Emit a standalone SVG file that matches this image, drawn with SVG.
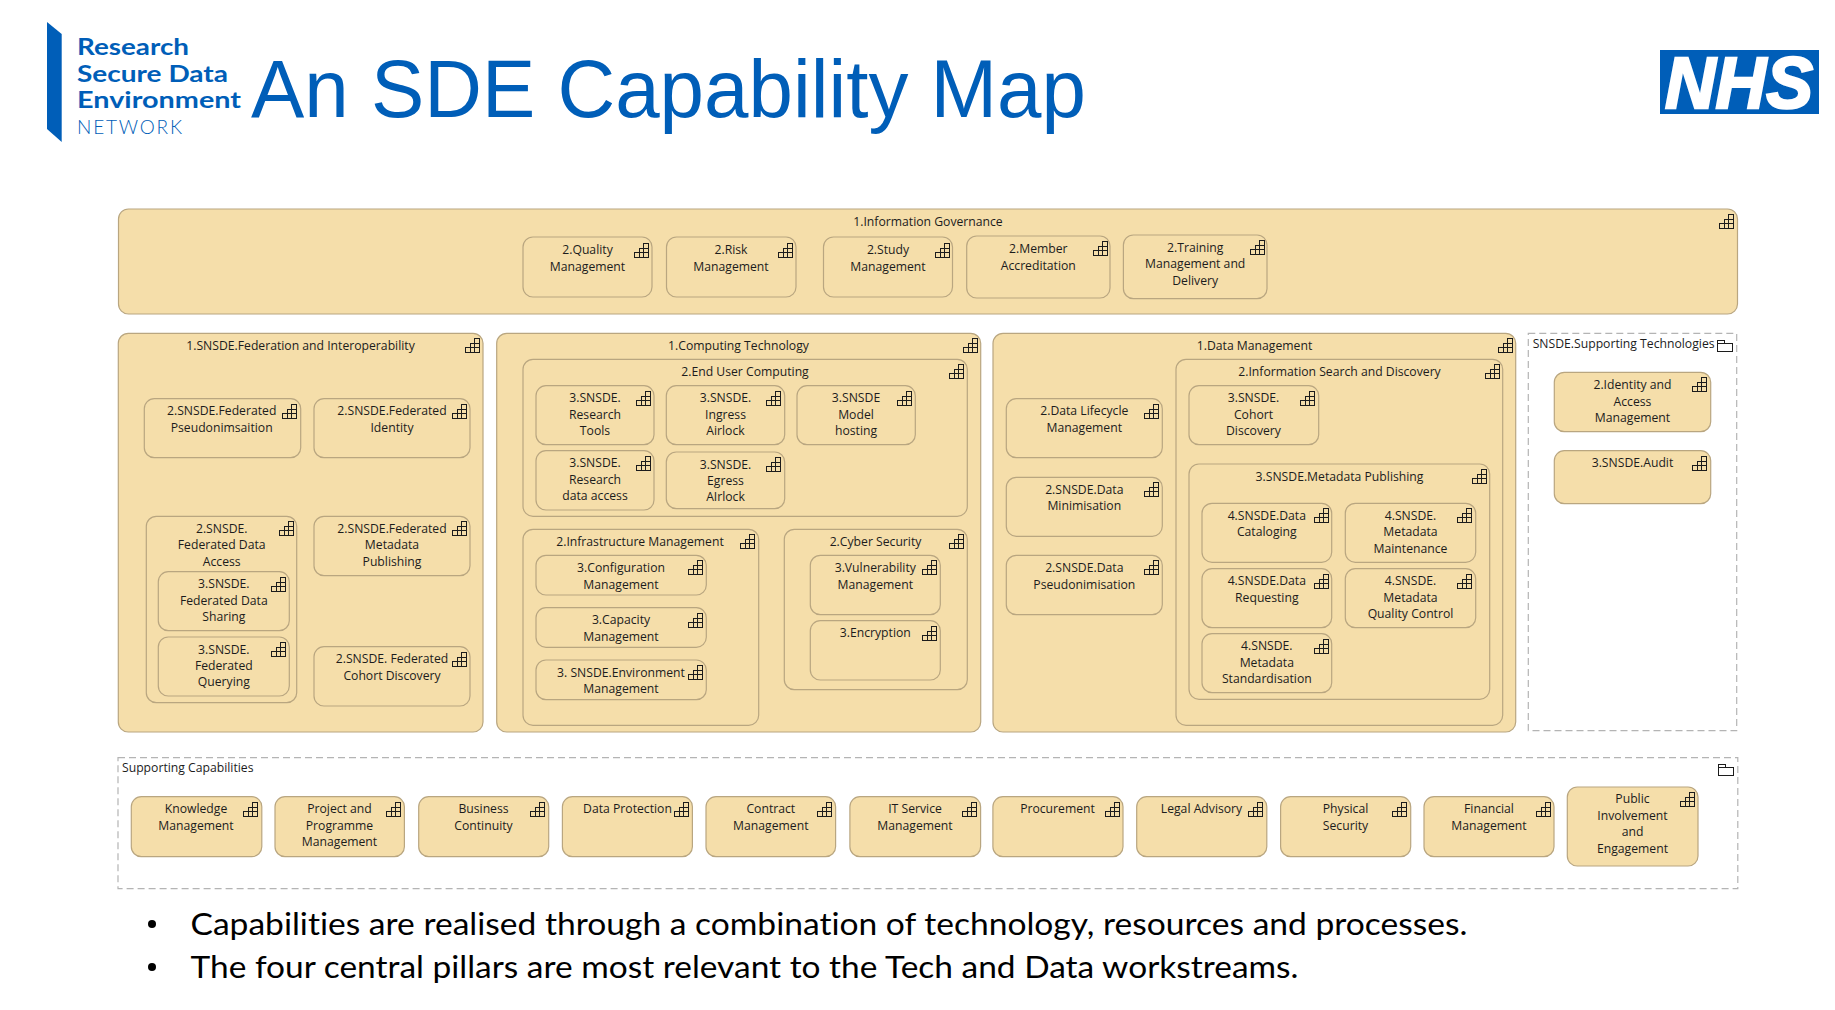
<svg xmlns="http://www.w3.org/2000/svg" width="1835" height="1010" viewBox="0 0 1835 1010">
<style>
text{font-family:"Open Sans","Noto Sans","Liberation Sans",sans-serif}
.b{fill:#F5DEAA;stroke:#B9A680;stroke-width:1.2}
.d{fill:#fff;stroke:#B4B4B4;stroke-width:1.2;stroke-dasharray:7 4}
.t{font-size:12.2px;fill:#1c1c1c;text-anchor:middle;transform:translateY(-.6px)}
.l{font-size:12.2px;fill:#1c1c1c;transform:translateY(-.6px)}
.i{fill:none;stroke:#1c1c1c;stroke-width:1;shape-rendering:crispEdges}
.logo{fill:#005EB8;font-family:Lato,"Open Sans",sans-serif;font-weight:700;font-size:22px}
.bul{font-family:Lato,"Open Sans",sans-serif;font-size:31px;fill:#000;font-variant-ligatures:none}
</style>
<defs>
<g id="cap"><path class="i" d="M0 14V9H5V5H9V0H14V14ZM0 9H14M5 5H14M5 9V14M9 5V14"/></g>
<g id="fold"><path class="i" d="M0 11V0H7V3H15V11ZM0 3H7"/></g>
</defs>
<g id="logo">
<polygon points="47,22 61.700,34 61.700,142 47,129" fill="#005EB8"/>
<text class="logo" x="77" y="55" textLength="112" lengthAdjust="spacingAndGlyphs">Research</text>
<text class="logo" x="77" y="81.700" textLength="151" lengthAdjust="spacingAndGlyphs">Secure Data</text>
<text class="logo" x="77" y="108" textLength="164" lengthAdjust="spacingAndGlyphs">Environment</text>
<text x="77" y="133.700" font-size="19" fill="#005EB8" font-weight="300" style="font-family:Lato,sans-serif" textLength="105">NETWORK</text>
</g>
<g id="title"><text x="251" y="117" font-size="81" fill="#005EB8" style="font-family:'Liberation Sans',sans-serif" textLength="835" lengthAdjust="spacingAndGlyphs">An SDE Capability Map</text></g>
<g id="nhs"><rect x="1660" y="50" width="159" height="64" fill="#005EB8"/>
<text x="1665" y="108" font-size="73" font-weight="700" font-style="italic" fill="#fff" stroke="#fff" stroke-width="2.500" style="font-family:'Liberation Sans',sans-serif" textLength="148" lengthAdjust="spacingAndGlyphs">NHS</text></g>

<g id="information-governance"><rect class="b" x="118.500" y="209" width="1619" height="105" rx="10"/><text class="t" x="928" y="226.700">1.Information Governance</text><use href="#cap" x="1719.500" y="214"/></g>
<g id="quality-management"><rect class="b" x="523" y="237" width="129" height="60" rx="10"/><text class="t" x="587.500" y="255">2.Quality<tspan x="587.500" dy="16.400">Management</tspan></text><use href="#cap" x="634" y="243"/></g>
<g id="risk-management"><rect class="b" x="666.500" y="237" width="129.500" height="60" rx="10"/><text class="t" x="731" y="255">2.Risk<tspan x="731" dy="16.400">Management</tspan></text><use href="#cap" x="778" y="243"/></g>
<g id="study-management"><rect class="b" x="823.500" y="237" width="129" height="60" rx="10"/><text class="t" x="888" y="255">2.Study<tspan x="888" dy="16.400">Management</tspan></text><use href="#cap" x="935" y="243"/></g>
<g id="member-accreditation"><rect class="b" x="966.700" y="236" width="143.300" height="62" rx="10"/><text class="t" x="1038.300" y="254">2.Member<tspan x="1038.300" dy="16.400">Accreditation</tspan></text><use href="#cap" x="1093" y="241.500"/></g>
<g id="training"><rect class="b" x="1123.400" y="235" width="143.600" height="63.700" rx="10"/><text class="t" x="1195.200" y="252.500">2.Training<tspan x="1195.200" dy="16.400">Management and</tspan><tspan x="1195.200" dy="16.400">Delivery</tspan></text><use href="#cap" x="1250" y="240"/></g>

<g id="federation"><rect class="b" x="118.300" y="333.300" width="364.700" height="398.700" rx="10"/><text class="t" x="300.500" y="351">1.SNSDE.Federation and Interoperability</text><use href="#cap" x="465.300" y="338.500"/></g>
<g id="fed-pseudo"><rect class="b" x="144.300" y="398.700" width="156.400" height="59" rx="10"/><text class="t" x="221.700" y="416">2.SNSDE.Federated<tspan x="221.700" dy="16.400">Pseudonimsaition</tspan></text><use href="#cap" x="282.300" y="404"/></g>
<g id="fed-identity"><rect class="b" x="314" y="398.700" width="156" height="59" rx="10"/><text class="t" x="392" y="416">2.SNSDE.Federated<tspan x="392" dy="16.400">Identity</tspan></text><use href="#cap" x="452" y="404"/></g>
<g id="fed-data-access"><rect class="b" x="146.300" y="516.300" width="150.400" height="186.400" rx="10"/><text class="t" x="221.700" y="533.500">2.SNSDE.<tspan x="221.700" dy="16.400">Federated Data</tspan><tspan x="221.700" dy="16.400">Access</tspan></text><use href="#cap" x="279" y="521.500"/></g>
<g id="fed-metadata"><rect class="b" x="314" y="516.300" width="156" height="59.400" rx="10"/><text class="t" x="392" y="533.500">2.SNSDE.Federated<tspan x="392" dy="16.400">Metadata</tspan><tspan x="392" dy="16.400">Publishing</tspan></text><use href="#cap" x="452" y="521.500"/></g>
<g id="fed-sharing"><rect class="b" x="158.300" y="571.700" width="131" height="59" rx="10"/><text class="t" x="223.800" y="589">3.SNSDE.<tspan x="223.800" dy="16.400">Federated Data</tspan><tspan x="223.800" dy="16.400">Sharing</tspan></text><use href="#cap" x="271.300" y="577"/></g>
<g id="fed-querying"><rect class="b" x="158.300" y="637" width="131" height="59" rx="10"/><text class="t" x="223.800" y="654.300">3.SNSDE.<tspan x="223.800" dy="16.400">Federated</tspan><tspan x="223.800" dy="16.400">Querying</tspan></text><use href="#cap" x="271.300" y="642.300"/></g>
<g id="fed-cohort"><rect class="b" x="314" y="646.700" width="156" height="59.300" rx="10"/><text class="t" x="392" y="664">2.SNSDE. Federated<tspan x="392" dy="16.400">Cohort Discovery</tspan></text><use href="#cap" x="452" y="652"/></g>

<g id="computing"><rect class="b" x="496.700" y="333.300" width="484" height="398.700" rx="10"/><text class="t" x="738.500" y="351">1.Computing Technology</text><use href="#cap" x="963" y="338.500"/></g>
<g id="end-user"><rect class="b" x="523" y="359.300" width="444.300" height="157" rx="10"/><text class="t" x="745" y="377">2.End User Computing</text><use href="#cap" x="949.500" y="364.500"/></g>
<g id="research-tools"><rect class="b" x="536" y="385.700" width="118" height="59" rx="10"/><text class="t" x="595" y="403">3.SNSDE.<tspan x="595" dy="16.400">Research</tspan><tspan x="595" dy="16.400">Tools</tspan></text><use href="#cap" x="636" y="391"/></g>
<g id="ingress"><rect class="b" x="666.300" y="385.700" width="118.400" height="59" rx="10"/><text class="t" x="725.500" y="403">3.SNSDE.<tspan x="725.500" dy="16.400">Ingress</tspan><tspan x="725.500" dy="16.400">Airlock</tspan></text><use href="#cap" x="766.500" y="391"/></g>
<g id="model"><rect class="b" x="797" y="385.700" width="118.300" height="59" rx="10"/><text class="t" x="856" y="403">3.SNSDE<tspan x="856" dy="16.400">Model</tspan><tspan x="856" dy="16.400">hosting</tspan></text><use href="#cap" x="897" y="391"/></g>
<g id="research-data"><rect class="b" x="536" y="450.700" width="118" height="59.300" rx="10"/><text class="t" x="595" y="468">3.SNSDE.<tspan x="595" dy="16.400">Research</tspan><tspan x="595" dy="16.400">data access</tspan></text><use href="#cap" x="636" y="456"/></g>
<g id="egress"><rect class="b" x="666.300" y="452" width="118.400" height="56.700" rx="10"/><text class="t" x="725.500" y="469.300">3.SNSDE.<tspan x="725.500" dy="16.400">Egress</tspan><tspan x="725.500" dy="16.400">AIrlock</tspan></text><use href="#cap" x="766.500" y="457.300"/></g>
<g id="infrastructure"><rect class="b" x="523" y="529.300" width="235.700" height="196" rx="10"/><text class="t" x="640" y="547">2.Infrastructure Management</text><use href="#cap" x="740.500" y="534.500"/></g>
<g id="configuration"><rect class="b" x="536" y="555.300" width="170.300" height="39.700" rx="10"/><text class="t" x="621" y="573">3.Configuration<tspan x="621" dy="16.400">Management</tspan></text><use href="#cap" x="688" y="560.500"/></g>
<g id="capacity"><rect class="b" x="536" y="607.700" width="170.300" height="39.600" rx="10"/><text class="t" x="621" y="625">3.Capacity<tspan x="621" dy="16.400">Management</tspan></text><use href="#cap" x="688" y="613"/></g>
<g id="environment"><rect class="b" x="536" y="660" width="170.300" height="39.700" rx="10"/><text class="t" x="621" y="677.500">3. SNSDE.Environment<tspan x="621" dy="16.400">Management</tspan></text><use href="#cap" x="688" y="665.300"/></g>
<g id="cyber"><rect class="b" x="784.300" y="529.300" width="183" height="160.400" rx="10"/><text class="t" x="875.500" y="547">2.Cyber Security</text><use href="#cap" x="949.500" y="534.500"/></g>
<g id="vulnerability"><rect class="b" x="810.300" y="555.300" width="130" height="59.400" rx="10"/><text class="t" x="875.300" y="573">3.Vulnerability<tspan x="875.300" dy="16.400">Management</tspan></text><use href="#cap" x="922.300" y="560.500"/></g>
<g id="encryption"><rect class="b" x="810.300" y="620.700" width="130" height="59.300" rx="10"/><text class="t" x="875.300" y="638">3.Encryption</text><use href="#cap" x="922.300" y="626"/></g>

<g id="data-management"><rect class="b" x="993" y="333.300" width="522.700" height="398.700" rx="10"/><text class="t" x="1254.500" y="351">1.Data Management</text><use href="#cap" x="1498" y="338.500"/></g>
<g id="data-lifecycle"><rect class="b" x="1006.300" y="398.700" width="156" height="59" rx="10"/><text class="t" x="1084.300" y="416">2.Data Lifecycle<tspan x="1084.300" dy="16.400">Management</tspan></text><use href="#cap" x="1144.300" y="404"/></g>
<g id="data-minimisation"><rect class="b" x="1006.300" y="477.300" width="156" height="59" rx="10"/><text class="t" x="1084.300" y="494.500">2.SNSDE.Data<tspan x="1084.300" dy="16.400">Minimisation</tspan></text><use href="#cap" x="1144.300" y="482.500"/></g>
<g id="data-pseudo"><rect class="b" x="1006.300" y="555.300" width="156" height="59.400" rx="10"/><text class="t" x="1084.300" y="573">2.SNSDE.Data<tspan x="1084.300" dy="16.400">Pseudonimisation</tspan></text><use href="#cap" x="1144.300" y="560.500"/></g>
<g id="info-search"><rect class="b" x="1176" y="359.300" width="326.700" height="366" rx="10"/><text class="t" x="1339.500" y="377">2.Information Search and Discovery</text><use href="#cap" x="1485" y="364.500"/></g>
<g id="cohort"><rect class="b" x="1189" y="385.700" width="129.700" height="59" rx="10"/><text class="t" x="1253.500" y="403">3.SNSDE.<tspan x="1253.500" dy="16.400">Cohort</tspan><tspan x="1253.500" dy="16.400">Discovery</tspan></text><use href="#cap" x="1300.500" y="391"/></g>
<g id="metadata-publishing"><rect class="b" x="1189" y="464" width="300.700" height="235.300" rx="10"/><text class="t" x="1339.500" y="481.500">3.SNSDE.Metadata Publishing</text><use href="#cap" x="1472" y="469.300"/></g>
<g id="cataloging"><rect class="b" x="1202" y="503.300" width="129.700" height="59" rx="10"/><text class="t" x="1266.800" y="520.700">4.SNSDE.Data<tspan x="1266.800" dy="16.400">Cataloging</tspan></text><use href="#cap" x="1314" y="508.500"/></g>
<g id="maintenance"><rect class="b" x="1345.300" y="503.300" width="130.400" height="59" rx="10"/><text class="t" x="1410.500" y="520.700">4.SNSDE.<tspan x="1410.500" dy="16.400">Metadata</tspan><tspan x="1410.500" dy="16.400">Maintenance</tspan></text><use href="#cap" x="1457.500" y="508.500"/></g>
<g id="requesting"><rect class="b" x="1202" y="568.700" width="129.700" height="59" rx="10"/><text class="t" x="1266.800" y="586">4.SNSDE.Data<tspan x="1266.800" dy="16.400">Requesting</tspan></text><use href="#cap" x="1314" y="574"/></g>
<g id="quality-control"><rect class="b" x="1345.300" y="568.700" width="130.400" height="59" rx="10"/><text class="t" x="1410.500" y="586">4.SNSDE.<tspan x="1410.500" dy="16.400">Metadata</tspan><tspan x="1410.500" dy="16.400">Quality Control</tspan></text><use href="#cap" x="1457.500" y="574"/></g>
<g id="standardisation"><rect class="b" x="1202" y="633.700" width="129.700" height="59" rx="10"/><text class="t" x="1266.800" y="651">4.SNSDE.<tspan x="1266.800" dy="16.400">Metadata</tspan><tspan x="1266.800" dy="16.400">Standardisation</tspan></text><use href="#cap" x="1314" y="639"/></g>

<g id="supporting-technologies"><rect class="d" x="1528.300" y="333.300" width="208.400" height="397.400"/><text class="l" x="1532.700" y="349">SNSDE.Supporting Technologies</text><use href="#fold" x="1717.500" y="340"/></g>
<g id="identity-access"><rect class="b" x="1554.300" y="372.300" width="156.400" height="59.400" rx="10"/><text class="t" x="1632.500" y="390">2.Identity and<tspan x="1632.500" dy="16.400">Access</tspan><tspan x="1632.500" dy="16.400">Management</tspan></text><use href="#cap" x="1692.500" y="377.500"/></g>
<g id="audit"><rect class="b" x="1554.300" y="450.700" width="156.400" height="53" rx="10"/><text class="t" x="1632.500" y="468">3.SNSDE.Audit</text><use href="#cap" x="1692.500" y="456"/></g>

<g id="supporting-capabilities"><rect class="d" x="118" y="757.700" width="1619.800" height="131"/><text class="l" x="122" y="773">Supporting Capabilities</text><use href="#fold" x="1718.500" y="764.500"/></g>
<g id="knowledge"><rect class="b" x="131.300" y="796.700" width="130.500" height="60" rx="10"/><text class="t" x="196" y="814">Knowledge<tspan x="196" dy="16.400">Management</tspan></text><use href="#cap" x="243.500" y="802"/></g>
<g id="project"><rect class="b" x="275" y="796.700" width="129.400" height="60" rx="10"/><text class="t" x="339.500" y="814">Project and<tspan x="339.500" dy="16.400">Programme</tspan><tspan x="339.500" dy="16.400">Management</tspan></text><use href="#cap" x="386.500" y="802"/></g>
<g id="business"><rect class="b" x="418.700" y="796.700" width="130" height="60" rx="10"/><text class="t" x="483.500" y="814">Business<tspan x="483.500" dy="16.400">Continuity</tspan></text><use href="#cap" x="530.500" y="802"/></g>
<g id="data-protection"><rect class="b" x="562.400" y="796.700" width="130" height="60" rx="10"/><text class="t" x="627.500" y="814">Data Protection</text><use href="#cap" x="674.500" y="802"/></g>
<g id="contract"><rect class="b" x="706" y="796.700" width="129.600" height="60" rx="10"/><text class="t" x="770.800" y="814">Contract<tspan x="770.800" dy="16.400">Management</tspan></text><use href="#cap" x="817.500" y="802"/></g>
<g id="it-service"><rect class="b" x="849.900" y="796.700" width="130.700" height="60" rx="10"/><text class="t" x="915" y="814">IT Service<tspan x="915" dy="16.400">Management</tspan></text><use href="#cap" x="962" y="802"/></g>
<g id="procurement"><rect class="b" x="992.900" y="796.700" width="130.100" height="60" rx="10"/><text class="t" x="1057.500" y="814">Procurement</text><use href="#cap" x="1105" y="802"/></g>
<g id="legal"><rect class="b" x="1136.700" y="796.700" width="130.100" height="60" rx="10"/><text class="t" x="1201.500" y="814">Legal Advisory</text><use href="#cap" x="1248.500" y="802"/></g>
<g id="physical"><rect class="b" x="1280.600" y="796.700" width="130.100" height="60" rx="10"/><text class="t" x="1345.500" y="814">Physical<tspan x="1345.500" dy="16.400">Security</tspan></text><use href="#cap" x="1392.500" y="802"/></g>
<g id="financial"><rect class="b" x="1424" y="796.700" width="130" height="60" rx="10"/><text class="t" x="1489" y="814">Financial<tspan x="1489" dy="16.400">Management</tspan></text><use href="#cap" x="1536" y="802"/></g>
<g id="public"><rect class="b" x="1567.300" y="787" width="130.700" height="79" rx="10"/><text class="t" x="1632.500" y="804">Public<tspan x="1632.500" dy="16.400">Involvement</tspan><tspan x="1632.500" dy="16.400">and</tspan><tspan x="1632.500" dy="16.400">Engagement</tspan></text><use href="#cap" x="1680" y="792"/></g>

<g id="bullets">
<circle cx="152" cy="924" r="4" fill="#000"/><text class="bul" x="190.500" y="935" textLength="1277" lengthAdjust="spacingAndGlyphs">Capabilities are realised through a combination of technology, resources and processes.</text>
<circle cx="152" cy="967" r="4" fill="#000"/><text class="bul" x="190.500" y="978" textLength="1108" lengthAdjust="spacingAndGlyphs">The four central pillars are most relevant to the Tech and Data workstreams.</text>
</g>
</svg>
